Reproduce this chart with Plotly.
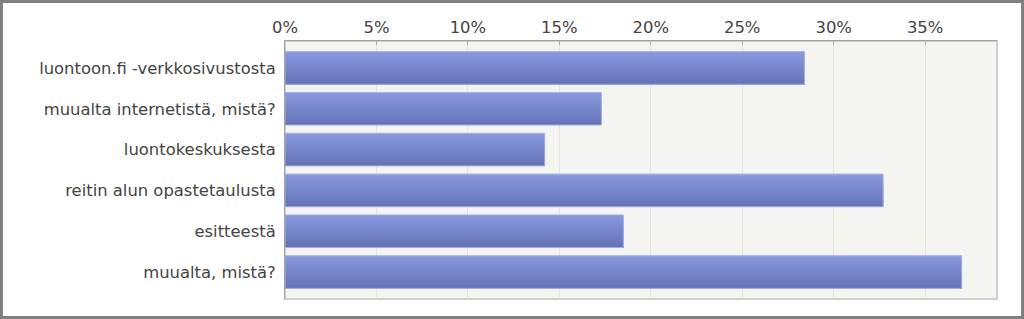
import plotly.graph_objects as go

categories = [
    "luontoon.fi -verkkosivustosta",
    "muualta internetistä, mistä?",
    "luontokeskuksesta",
    "reitin alun opastetaulusta",
    "esitteestä",
    "muualta, mistä?",
]
values = [28.4, 17.3, 14.2, 32.7, 18.5, 37.0]
tick_values = [0, 5, 10, 15, 20, 25, 30, 35]
tick_labels = ["0%", "5%", "10%", "15%", "20%", "25%", "30%", "35%"]

W, H = 1024, 319
L, R, T, B = 285, 27, 41, 20
pw, ph = W - L - R, H - T - B

# gradient strips (top light -> bottom dark)
top_rgb = (0x88, 0x98, 0xe0)
bot_rgb = (0x66, 0x74, 0xb6)
N = 16
bar_w = 0.8
fig = go.Figure()
for i in range(N):
    f = i / (N - 1)
    c = tuple(round(top_rgb[k] + (bot_rgb[k] - top_rgb[k]) * f) for k in range(3))
    step = bar_w / N
    fig.add_trace(go.Bar(
        y=categories, x=values, orientation="h",
        width=bar_w - i * step, offset=-bar_w / 2 + i * step,
        marker=dict(color="rgb(%d,%d,%d)" % c, line=dict(width=0)),
        hoverinfo="skip", showlegend=False,
    ))
# light outline
fig.add_trace(go.Bar(
    y=categories, x=values, orientation="h", width=bar_w, offset=-bar_w / 2,
    marker=dict(color="rgba(0,0,0,0)", line=dict(width=1, color="#a8b2e6")),
    showlegend=False,
))

def px(xp):
    return (xp - L) / pw

def py(yp):
    return (H - B - yp) / ph

fig.update_layout(
    width=W, height=H,
    margin=dict(l=L, r=R, t=T, b=B, pad=0),
    paper_bgcolor="white", plot_bgcolor="#f4f5f0",
    barmode="overlay",
    font=dict(family="DejaVu Sans, Verdana, sans-serif", size=16.4, color="#444444"),
    xaxis=dict(
        side="top", range=[0, 38.93], tickvals=tick_values, ticktext=tick_labels,
        showgrid=True, gridcolor="#e2e4de", gridwidth=1,
        showline=True, linecolor="#a0a0a0", linewidth=1,
        ticks="inside", ticklen=4, tickcolor="#b0b0b0",
        zeroline=False, fixedrange=True,
    ),
    yaxis=dict(
        range=[5.66, -0.66], showgrid=False,
        showline=True, linecolor="#a0a0a0", linewidth=1,
        ticks="", ticklabelstandoff=5, fixedrange=True,
    ),
    shapes=[
        dict(type="rect", xref="paper", yref="paper", x0=0, x1=1, y0=0, y1=1,
             line=dict(color="#cfcfcf", width=2), layer="below"),
        dict(type="rect", xref="paper", yref="paper",
             x0=px(1.5), x1=px(1022.5), y0=py(1.5), y1=py(317.5),
             line=dict(color="#808080", width=3), fillcolor="rgba(0,0,0,0)"),
    ],
)
fig.write_html("out.html")
